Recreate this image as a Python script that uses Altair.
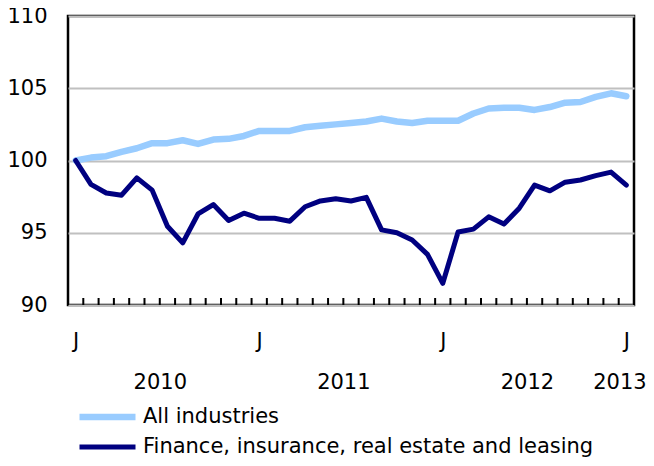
import altair as alt
import pandas as pd

# ---- data (monthly index, Jan 2010 = month 0 ... Jan 2013 = month 36)
series_names = ["All industries", "Finance, insurance, real estate and leasing"]
series_colors = ["#99CCFF", "#000080"]

months = list(range(37))

all_industries = [
    100.0, 100.2, 100.3, 100.6, 100.85, 101.2, 101.2, 101.4, 101.15, 101.45, 101.5, 101.7,
    102.05, 102.05, 102.05, 102.3, 102.4, 102.5, 102.6, 102.7, 102.9, 102.7, 102.6, 102.75,
    102.75, 102.75, 103.25, 103.6, 103.65, 103.65, 103.5, 103.7, 104.0, 104.05, 104.4, 104.65,
    104.45,
]

finance = [
    100.0, 98.35, 97.75, 97.6, 98.8, 97.95, 95.45, 94.3, 96.3, 96.95, 95.85, 96.35,
    96.0, 96.0, 95.8, 96.8, 97.2, 97.35, 97.2, 97.45, 95.2, 95.0, 94.5, 93.5,
    91.5, 95.05, 95.25, 96.1, 95.6, 96.7, 98.3, 97.9, 98.5, 98.65, 98.95, 99.2,
    98.3,
]

y_ticks = [90, 95, 100, 105, 110]
x_label_values = [0, 5.5, 12, 17.5, 24, 29.5, 35.55, 36]
x_label_lines = [["J"], ["", "2010"], ["J"], ["", "2011"], ["J"], ["", "2012"], ["", "2013"], ["J"]]
month_boundaries = [m - 0.5 for m in months] + [months[-1] + 0.5]

df = pd.DataFrame({
    "month": months * 2,
    "value": all_industries + finance,
    "series": [series_names[0]] * len(months) + [series_names[1]] * len(months),
})
ticks_df = pd.DataFrame({"b": month_boundaries})

# label expression built from the label lists
parts = []
for v, lines in zip(x_label_values, x_label_lines):
    arr = "[" + ",".join("'" + s + "'" for s in lines) + "]"
    parts.append(f"datum.value == {v} ? {arr} : ")
label_expr = "".join(parts) + "''"

FONT = "DejaVu Sans"
FS = 21
PLOT_W = 566
PLOT_H = 289

legend = alt.Legend(
    orient="none", legendX=8, legendY=386, title=None, direction="vertical",
    symbolType="stroke", symbolSize=3136, labelFont=FONT, labelFontSize=FS,
    labelColor="black", labelOffset=4, labelLimit=600, clipHeight=30,
    rowPadding=-2, padding=0,
)

lines = alt.Chart(df).mark_line(strokeCap="round", strokeJoin="round").encode(
    x=alt.X(
        "month:Q",
        scale=alt.Scale(domain=[-0.5, 36.5], nice=False, zero=False),
        axis=alt.Axis(
            values=x_label_values, labelExpr=label_expr, ticks=False, tickSize=0,
            domain=False, grid=False, labelPadding=25, labelLineHeight=41,
            labelFont=FONT, labelFontSize=FS, labelColor="black",
            labelOverlap=False, labelFlush=False, labelBound=False, title=None,
        ),
    ),
    y=alt.Y(
        "value:Q",
        scale=alt.Scale(domain=[90, 110], nice=False, zero=False),
        axis=alt.Axis(
            values=y_ticks, ticks=False, tickSize=0, domain=False, grid=True,
            gridColor="#C0C0C0", gridWidth=2, labelPadding=21,
            labelFont=FONT, labelFontSize=FS, labelColor="black", title=None,
        ),
    ),
    color=alt.Color("series:N", scale=alt.Scale(domain=series_names, range=series_colors), legend=legend),
    strokeWidth=alt.StrokeWidth("series:N", scale=alt.Scale(domain=series_names, range=[6.5, 5]), legend=legend),
)

ticks = alt.Chart(ticks_df).mark_rule(color="black", strokeWidth=2).encode(
    x=alt.X("b:Q"),
    y=alt.value(PLOT_H),
    y2=alt.value(PLOT_H - 7),
)

chart = alt.layer(lines, ticks).properties(
    width=PLOT_W,
    height=PLOT_H,
    autosize=alt.AutoSizeParams(type="none"),
    padding={"left": 60, "top": 8, "right": 12, "bottom": 153},
    background="white",
).configure_view(
    stroke="black", strokeWidth=2.5
)

chart.save("out.html", embed_options={"renderer": "svg", "actions": False})
